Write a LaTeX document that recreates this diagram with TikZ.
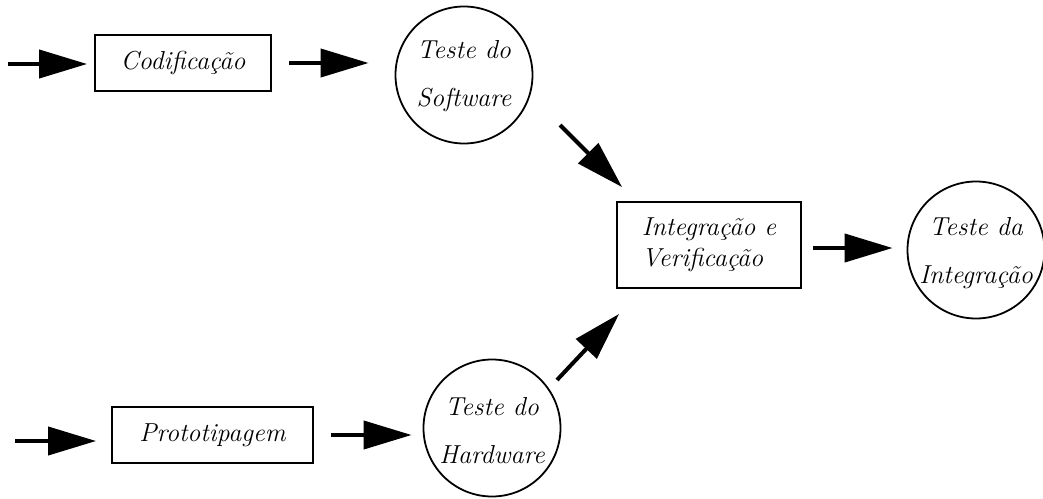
\documentclass[tikz,border=0pt]{standalone}
\usepackage{fontspec}
\usetikzlibrary{arrows.meta,calc}
\begin{document}
\begin{tikzpicture}[x=1pt,y=-1pt,
  box/.style={draw,line width=1.8pt,rectangle,inner sep=0pt,
    font=\fontsize{26}{31}\selectfont\itshape},
  stage/.style={draw,line width=1.8pt,circle,minimum size=137pt,inner sep=0pt},
  stagetext/.style={inner sep=0pt,align=center,font=\fontsize{26}{48}\selectfont\itshape},
  flow/.style={line width=4pt,-{Triangle[length=48pt,width=28pt]}},
]
\useasboundingbox (0,0) rectangle (1043,498);

% process steps
\node[box,minimum width=176pt,minimum height=56pt] (cod) at (183,63) {Codificação};
\node[stage] (sw) at (464,75) {};
\node[stagetext] (swt) at ([yshift=-1pt]sw.center) {Teste do\\Software};
\node[box,minimum width=184pt,minimum height=86pt,align=left] (iv) at (709,245)
  {Integração e\\Verificação};
\node[stage] (ti) at (976,250) {};
\node[stagetext] (tit) at ([yshift=-3pt]ti.center) {Teste da\\Integração};
\node[box,minimum width=201pt,minimum height=56pt] (pro) at (212.5,435) {Prototipagem};
\node[stage] (hw) at (492,428) {};
\node[stagetext] (hwt) at ([yshift=-3pt]hw.center) {Teste do\\Hardware};

% free input ends
\coordinate (in1) at (8,64);
\coordinate (in2) at (15,441);

% software branch
\draw[flow,shorten >=7pt] (in1) -- (in1 -| cod.west);
\draw[flow,shorten <=17pt,shorten >=26pt] (cod.east) -- (cod.east -| sw.west);
\draw[flow] ($(sw.center)+(96,50)$) -- ($(iv.north west)+(6,-14)$);

% hardware branch
\draw[flow,shorten >=15pt] (in2) -- (in2 -| pro.west);
\draw[flow,shorten <=17pt,shorten >=11pt] (pro.east) -- (pro.east -| hw.west);
\draw[flow] ($(hw.center)+(65,-48)$) -- ($(iv.south west)+(3,25)$);

% integration
\draw[flow,shorten <=11pt,shorten >=14pt] ([yshift=-3pt]iv.east) -- ([yshift=-3pt]iv.east -| ti.west);
\end{tikzpicture}
\end{document}
